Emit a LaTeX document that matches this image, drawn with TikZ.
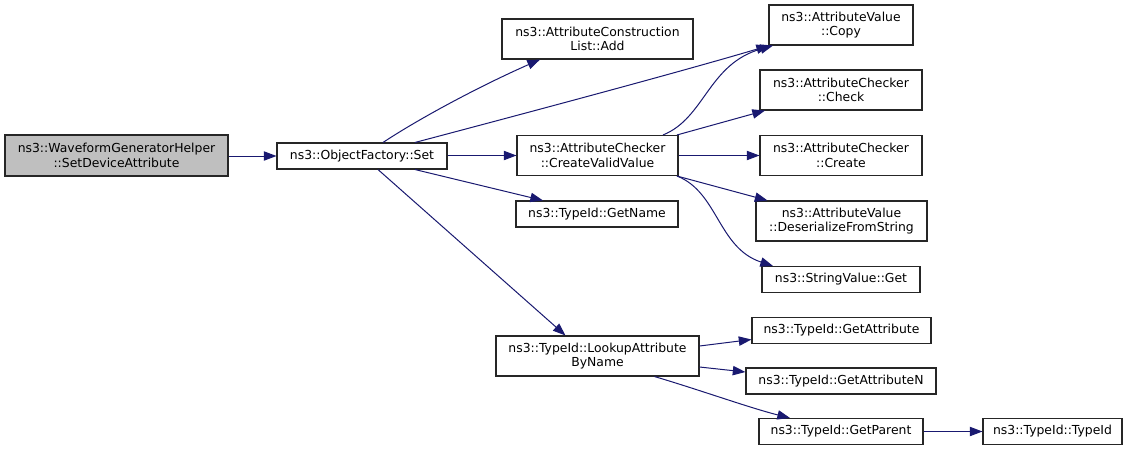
\documentclass[tikz,border=0pt]{standalone}
\usepackage{fontspec}
\setmainfont{DejaVu Sans}
\usetikzlibrary{arrows.meta,calc}
\definecolor{edgeblue}{HTML}{191970}
\definecolor{hlgray}{HTML}{BFBFBF}
\begin{document}
\begin{tikzpicture}[x=0.75pt,y=-0.75pt,
  box/.style={draw=black!85,line width=0.8pt,fill=white,rectangle,inner sep=0pt,align=center,
    font=\fontsize{9.3}{10.9}\selectfont},
  hl/.style={box,fill=hlgray},
  call/.style={draw=edgeblue,line width=0.75pt,-{Triangle[length=9.5pt,width=7pt]}}]
\useasboundingbox[fill=white] (0,0) rectangle (1128,451);
% nodes
\node[hl,minimum width=223*0.75pt,minimum height=41*0.75pt] (A) at (116.5,155.5) {ns3::WaveformGeneratorHelper\\::SetDeviceAttribute};
\node[box,minimum width=170*0.75pt,minimum height=26*0.75pt] (B) at (362,156) {ns3::ObjectFactory::Set};
\node[box,minimum width=191*0.75pt,minimum height=40*0.75pt] (add) at (597.5,39) {ns3::AttributeConstruction\\List::Add};
\node[box,minimum width=144*0.75pt,minimum height=40*0.75pt] (copy) at (841,25) {ns3::AttributeValue\\::Copy};
\node[box,minimum width=162*0.75pt,minimum height=40*0.75pt] (check) at (841,90) {ns3::AttributeChecker\\::Check};
\node[box,minimum width=161*0.75pt,minimum height=40*0.75pt] (cvv) at (597.5,155.5) {ns3::AttributeChecker\\::CreateValidValue};
\node[box,minimum width=162*0.75pt,minimum height=40*0.75pt] (create) at (841,155.5) {ns3::AttributeChecker\\::Create};
\node[box,minimum width=162*0.75pt,minimum height=26*0.75pt] (gname) at (597,214) {ns3::TypeId::GetName};
\node[box,minimum width=171*0.75pt,minimum height=40*0.75pt] (deser) at (841.5,221) {ns3::AttributeValue\\::DeserializeFromString};
\node[box,minimum width=158*0.75pt,minimum height=26*0.75pt] (sget) at (841,279.5) {ns3::StringValue::Get};
\node[box,minimum width=203*0.75pt,minimum height=40*0.75pt] (look) at (597.5,356) {ns3::TypeId::LookupAttribute\\ByName};
\node[box,minimum width=179*0.75pt,minimum height=26*0.75pt] (gattr) at (841.5,330.5) {ns3::TypeId::GetAttribute};
\node[box,minimum width=190*0.75pt,minimum height=26*0.75pt] (gattrn) at (841,381) {ns3::TypeId::GetAttributeN};
\node[box,minimum width=164*0.75pt,minimum height=26*0.75pt] (gpar) at (841,431.5) {ns3::TypeId::GetParent};
\node[box,minimum width=139*0.75pt,minimum height=26*0.75pt] (tid) at (1052.5,431.5) {ns3::TypeId::TypeId};
% edges
\draw[call] (A.east |- B) -- (B.west);
\draw[call] ($(B.north)+(21,0)$) .. controls (420,118) and (480,86) .. ($(add.south)+(-57.5,0)$);
\draw[call] ($(B.north)+(53,0)$) .. controls (530,112) and (680,72) .. ($(copy.south)+(-72,0)$);
\draw[call] (B.east |- cvv) -- (cvv.west);
\draw[call] ($(B.south)+(53,0)$) -- ($(gname.north)+(-54,0)$);
\draw[call] ($(B.south)+(16,0)$) -- ($(look.north)+(-32,0)$);
\draw[call] ($(cvv.north)+(65.5,0)$) .. controls (705,118) and (708,64) .. ($(copy.south)+(-68,0)$);
\draw[call] ($(cvv.north)+(79.5,0)$) -- ($(check.south)+(-76,0)$);
\draw[call] (cvv.east) -- (create.west);
\draw[call] ($(cvv.south)+(79.5,0)$) -- ($(deser.north)+(-74,0)$);
\draw[call] ($(cvv.south)+(79.5,0)$) .. controls (718,192) and (718,248) .. ($(sget.north)+(-68,0)$);
\draw[call] ($(look.east)+(0,-10)$) -- ($(gattr.west)+(0,9)$);
\draw[call] ($(look.east)+(0,11)$) -- ($(gattrn.west)+(0,-9)$);
\draw[call] ($(look.south)+(57,0)$) .. controls (700,390) and (750,408) .. ($(gpar.north)+(-51,0)$);
\draw[call] (gpar.east) -- (tid.west);
\end{tikzpicture}
\end{document}
